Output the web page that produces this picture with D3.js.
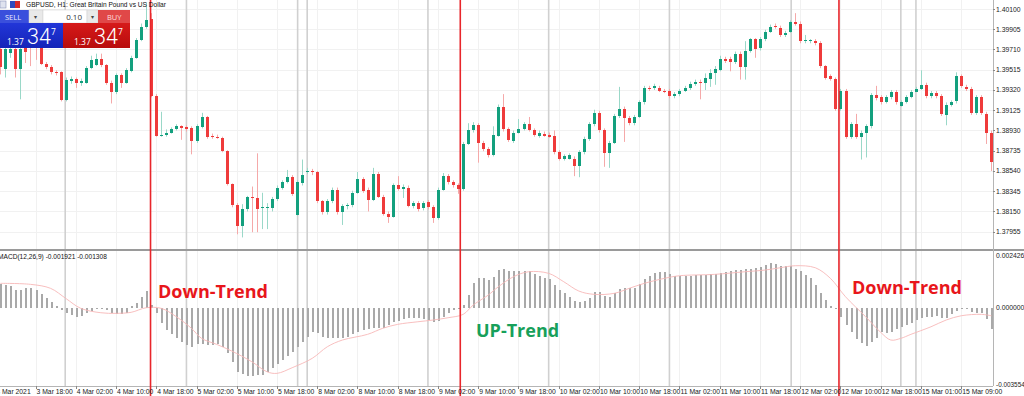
<!DOCTYPE html>
<html>
<head>
<meta charset="utf-8">
<script src="https://cdn.jsdelivr.net/npm/d3@7"></script>
<style>
	body { margin: 0; background: #fff; }
	svg { display: block; font-family: "Liberation Sans", Arial, sans-serif; }
</style>
</head>
<body>
<div id="chart"></div>
<script>
/* GBPUSD H1 candles with a MACD pane, MetaTrader look */

// OHLC, one entry per hourly bar (bar 0 = 3 Mar 2021 11:00)
const opens = [1.3971,1.3952,1.3968,1.3971,1.3952,1.3977,1.3981,1.3982,1.3977,1.3957,1.3954,1.3949,1.3949,1.3922,1.3941,1.3943,1.3939,1.3939,1.3953,1.3956,
1.3962,1.3956,1.3939,1.3930,1.3946,1.3939,1.3950,1.3963,1.3980,1.3993,1.4000,1.3926,1.3888,1.3889,1.3891,1.3894,1.3897,1.3896,1.3895,1.3883,
1.3896,1.3906,1.3888,1.3887,1.3886,1.3873,1.3841,1.3821,1.3801,1.3817,1.3829,1.3828,1.3818,1.3818,1.3818,1.3827,1.3838,1.3843,1.3848,1.3812,
1.3842,1.3853,1.3854,1.3853,1.3825,1.3814,1.3825,1.3836,1.3814,1.3820,1.3821,1.3833,1.3846,1.3836,1.3826,1.3851,1.3829,1.3813,1.3810,1.3840,
1.3837,1.3838,1.3820,1.3823,1.3818,1.3824,1.3819,1.3809,1.3836,1.3849,1.3843,1.3840,1.3837,1.3880,1.3893,1.3898,1.3881,1.3875,1.3869,1.3888,
1.3916,1.3894,1.3883,1.3891,1.3894,1.3899,1.3893,1.3888,1.3890,1.3889,1.3888,1.3872,1.3866,1.3866,1.3866,1.3859,1.3872,1.3885,1.3899,1.3910,
1.3893,1.3871,1.3881,1.3907,1.3914,1.3905,1.3900,1.3906,1.3920,1.3934,1.3934,1.3934,1.3931,1.3931,1.3926,1.3928,1.3931,1.3934,1.3938,1.3940,
1.3939,1.3943,1.3948,1.3951,1.3962,1.3962,1.3959,1.3967,1.3954,1.3970,1.3981,1.3972,1.3981,1.3988,1.3994,1.3992,1.3985,1.3988,1.3997,1.3996,
1.3979,1.3979,1.3979,1.3977,1.3955,1.3945,1.3943,1.3914,1.3931,1.3887,1.3899,1.3887,1.3891,1.3897,1.3927,1.3925,1.3920,1.3925,1.3930,1.3917,
1.3920,1.3925,1.3930,1.3933,1.3937,1.3926,1.3929,1.3926,1.3908,1.3918,1.3921,1.3945,1.3935,1.3933,1.3910,1.3925,1.3909,1.3891]

const highs = [1.3975,1.3974,1.3976,1.3974,1.3977,1.3981,1.3984,1.3986,1.3981,1.3959,1.3956,1.3951,1.3950,1.3944,1.3945,1.3944,1.3943,1.3955,1.3965,1.3967,
1.3967,1.3957,1.3941,1.3948,1.3948,1.3953,1.3965,1.3982,1.3996,1.4016,1.4006,1.3928,1.3911,1.3894,1.3896,1.3899,1.3898,1.3898,1.3897,1.3899,
1.3910,1.3907,1.3890,1.3889,1.3887,1.3874,1.3842,1.3823,1.3822,1.3830,1.3839,1.3871,1.3833,1.3823,1.3829,1.3840,1.3845,1.3855,1.3850,1.3845,
1.3865,1.3857,1.3856,1.3854,1.3826,1.3827,1.3838,1.3838,1.3822,1.3823,1.3835,1.3853,1.3848,1.3838,1.3857,1.3853,1.3831,1.3815,1.3842,1.3849,
1.3841,1.3840,1.3825,1.3825,1.3825,1.3826,1.3821,1.3838,1.3852,1.3851,1.3845,1.3842,1.3882,1.3900,1.3901,1.3900,1.3883,1.3877,1.3897,1.3918,
1.3928,1.3896,1.3893,1.3904,1.3901,1.3906,1.3895,1.3893,1.3892,1.3891,1.3893,1.3874,1.3870,1.3871,1.3868,1.3874,1.3887,1.3901,1.3913,1.3912,
1.3895,1.3883,1.3909,1.3935,1.3916,1.3907,1.3908,1.3922,1.3936,1.3936,1.3938,1.3936,1.3933,1.3933,1.3930,1.3933,1.3936,1.3940,1.3942,1.3942,
1.3948,1.3952,1.3955,1.3965,1.3964,1.3964,1.3969,1.3969,1.3979,1.3982,1.3982,1.3983,1.3990,1.3995,1.3996,1.3994,1.3989,1.3999,1.4006,1.3998,
1.3985,1.3981,1.3981,1.3979,1.3956,1.3947,1.3944,1.3933,1.3933,1.3901,1.3909,1.3893,1.3899,1.3929,1.3936,1.3927,1.3927,1.3932,1.3932,1.3922,
1.3927,1.3932,1.3935,1.3951,1.3939,1.3931,1.3931,1.3928,1.3920,1.3922,1.3949,1.3947,1.3937,1.3935,1.3927,1.3927,1.3911,1.3893]

const lows = [1.3947,1.3944,1.3963,1.3944,1.3923,1.3958,1.3955,1.3961,1.3956,1.3952,1.3947,1.3946,1.3921,1.3921,1.3938,1.3934,1.3936,1.3938,1.3952,1.3955,
1.3954,1.3937,1.3919,1.3928,1.3934,1.3938,1.3949,1.3962,1.3979,1.3991,1.3925,1.3887,1.3887,1.3887,1.3890,1.3893,1.3884,1.3892,1.3870,1.3881,
1.3895,1.3885,1.3885,1.3885,1.3872,1.3840,1.3819,1.3793,1.3790,1.3815,1.3795,1.3795,1.3798,1.3798,1.3815,1.3825,1.3836,1.3842,1.3830,1.3811,
1.3840,1.3851,1.3850,1.3823,1.3812,1.3812,1.3823,1.3812,1.3802,1.3817,1.3819,1.3832,1.3833,1.3815,1.3825,1.3828,1.3811,1.3804,1.3809,1.3835,
1.3828,1.3819,1.3818,1.3815,1.3816,1.3817,1.3804,1.3807,1.3835,1.3841,1.3838,1.3832,1.3835,1.3879,1.3891,1.3862,1.3873,1.3867,1.3868,1.3887,
1.3892,1.3882,1.3881,1.3890,1.3893,1.3892,1.3887,1.3886,1.3887,1.3886,1.3870,1.3864,1.3864,1.3865,1.3849,1.3848,1.3870,1.3883,1.3897,1.3891,
1.3858,1.3857,1.3880,1.3905,1.3882,1.3898,1.3898,1.3905,1.3918,1.3931,1.3932,1.3930,1.3929,1.3924,1.3924,1.3926,1.3930,1.3932,1.3936,1.3923,
1.3932,1.3935,1.3937,1.3950,1.3958,1.3950,1.3957,1.3942,1.3942,1.3968,1.3963,1.3970,1.3979,1.3987,1.3991,1.3983,1.3983,1.3987,1.3994,1.3977,
1.3977,1.3977,1.3975,1.3953,1.3942,1.3941,1.3912,1.3912,1.3885,1.3885,1.3885,1.3865,1.3867,1.3895,1.3922,1.3918,1.3919,1.3923,1.3918,1.3916,
1.3919,1.3924,1.3930,1.3932,1.3924,1.3924,1.3924,1.3907,1.3898,1.3916,1.3919,1.3934,1.3931,1.3908,1.3908,1.3908,1.3880,1.3854]

const closes = [1.3954,1.3971,1.3971,1.3952,1.3971,1.3969,1.3974,1.3975,1.3957,1.3954,1.3949,1.3948,1.3922,1.3942,1.3943,1.3939,1.3941,1.3953,1.3961,1.3962,
1.3956,1.3939,1.3930,1.3946,1.3939,1.3951,1.3963,1.3980,1.3993,1.3999,1.3926,1.3888,1.3889,1.3891,1.3894,1.3897,1.3895,1.3894,1.3883,1.3897,
1.3906,1.3887,1.3887,1.3886,1.3873,1.3841,1.3821,1.3801,1.3817,1.3829,1.3828,1.3817,1.3819,1.3819,1.3827,1.3838,1.3843,1.3848,1.3832,1.3843,
1.3850,1.3854,1.3853,1.3825,1.3814,1.3825,1.3836,1.3814,1.3820,1.3821,1.3833,1.3846,1.3835,1.3826,1.3851,1.3829,1.3813,1.3810,1.3840,1.3837,
1.3839,1.3820,1.3823,1.3817,1.3823,1.3819,1.3809,1.3836,1.3849,1.3843,1.3840,1.3837,1.3880,1.3893,1.3898,1.3881,1.3875,1.3869,1.3889,1.3916,
1.3894,1.3884,1.3891,1.3894,1.3899,1.3893,1.3889,1.3891,1.3888,1.3887,1.3872,1.3866,1.3868,1.3869,1.3859,1.3872,1.3885,1.3899,1.3910,1.3893,
1.3871,1.3881,1.3907,1.3914,1.3905,1.3900,1.3906,1.3920,1.3934,1.3933,1.3936,1.3931,1.3930,1.3926,1.3928,1.3931,1.3934,1.3938,1.3940,1.3939,
1.3944,1.3948,1.3952,1.3962,1.3960,1.3959,1.3967,1.3954,1.3970,1.3981,1.3971,1.3981,1.3988,1.3993,1.3993,1.3985,1.3987,1.3997,1.3996,1.3979,
1.3980,1.3980,1.3977,1.3955,1.3944,1.3943,1.3914,1.3931,1.3887,1.3899,1.3887,1.3891,1.3897,1.3927,1.3924,1.3920,1.3925,1.3930,1.3920,1.3920,
1.3925,1.3930,1.3933,1.3937,1.3926,1.3929,1.3926,1.3909,1.3918,1.3920,1.3945,1.3936,1.3933,1.3910,1.3925,1.3910,1.3891,1.3863]

// MACD(12,26,9) histogram, one value per bar
const macdHist = [0.00109,0.00106,0.00103,0.00083,0.00083,0.00090,0.00090,0.00083,0.00062,0.00044,0.00025,0.00009,-0.00011,-0.00026,-0.00034,-0.00042,-0.00037,-0.00026,-0.00015,-0.00007,
-0.00006,-0.00011,-0.00026,-0.00031,-0.00031,-0.00026,0.00009,0.00021,0.00051,0.00078,0.00013,-0.00026,-0.00073,-0.00104,-0.00124,-0.00143,-0.00158,-0.00174,-0.00182,-0.00171,
-0.00171,-0.00174,-0.00174,-0.00171,-0.00182,-0.00213,-0.00252,-0.00298,-0.00310,-0.00317,-0.00317,-0.00314,-0.00314,-0.00298,-0.00282,-0.00262,-0.00244,-0.00224,-0.00208,-0.00182,
-0.00161,-0.00135,-0.00115,-0.00119,-0.00135,-0.00140,-0.00140,-0.00143,-0.00140,-0.00135,-0.00124,-0.00115,-0.00104,-0.00099,-0.00096,-0.00096,-0.00093,-0.00081,-0.00068,-0.00062,
-0.00053,-0.00049,-0.00049,-0.00049,-0.00053,-0.00057,-0.00068,-0.00062,-0.00042,-0.00026,-0.00011,-0.00003,0.00013,0.00059,0.00114,0.00137,0.00137,0.00129,0.00144,0.00176,
0.00180,0.00171,0.00171,0.00171,0.00171,0.00171,0.00156,0.00149,0.00140,0.00132,0.00106,0.00083,0.00067,0.00048,0.00031,0.00025,0.00031,0.00047,0.00072,0.00072,
0.00056,0.00051,0.00067,0.00087,0.00093,0.00093,0.00093,0.00109,0.00134,0.00148,0.00160,0.00165,0.00165,0.00156,0.00149,0.00149,0.00149,0.00149,0.00152,0.00152,
0.00152,0.00156,0.00156,0.00160,0.00168,0.00171,0.00176,0.00176,0.00180,0.00180,0.00186,0.00191,0.00199,0.00207,0.00202,0.00196,0.00196,0.00196,0.00180,0.00171,
0.00152,0.00137,0.00106,0.00067,0.00036,0.00009,-0.00003,-0.00042,-0.00081,-0.00115,-0.00146,-0.00166,-0.00177,-0.00158,-0.00140,-0.00115,-0.00120,-0.00112,-0.00099,-0.00089,
-0.00081,-0.00073,-0.00057,-0.00047,-0.00042,-0.00042,-0.00039,-0.00047,-0.00047,-0.00031,-0.00015,-0.00006,-0.00006,-0.00019,-0.00026,-0.00026,-0.00053,-0.00099]

// signal line, read at these bars
const signalBars = [0,6,10,13,16,20,23,26,29,32,35,38,40,43,46,50,53,55,58,62,65,68,73,76,79,83,86,89,92,94,96,97,99,102,105,109,112,115,118,122,125,128,132,135,142,148,152,155,158,162,165,168,172,175,177,179,181,185,188,191,195,197]
const signalValues = [0.001137,0.001091,0.000904,0.000438,-0.000028,-0.000233,-0.000261,-0.000214,0.0,-0.000028,-0.000419,-0.00096,-0.001426,-0.001706,-0.002018,-0.002517,-0.002983,-0.003058,-0.002796,-0.002358,
-0.001818,-0.001505,-0.00124,-0.00096,-0.000774,-0.000653,-0.000573,-0.000466,-0.000308,0.000126,0.000438,0.000592,0.000979,0.001445,0.001678,0.001603,0.001212,0.000778,0.000625,0.000671,
0.000904,0.001137,0.00137,0.001492,0.001557,0.001678,0.001757,0.001864,0.001958,0.001864,0.00137,0.000513,-0.000419,-0.001147,-0.001505,-0.001426,-0.00124,-0.000886,-0.000573,-0.000373,
-0.000308,-0.000373]

const priceTicks = [1.40100,1.39905,1.39710,1.39515,1.39320,1.39125,1.38930,1.38735,1.38540,1.38345,1.38150,1.37955]
const macdTicks = [0.002426, 0.0, -0.003554]

const timeLabels = ["3 Mar 2021","3 Mar 18:00","4 Mar 02:00","4 Mar 10:00","4 Mar 18:00","5 Mar 02:00","5 Mar 10:00","5 Mar 18:00","8 Mar 02:00","8 Mar 10:00","8 Mar 18:00","9 Mar 02:00","9 Mar 10:00",
"9 Mar 18:00","10 Mar 02:00","10 Mar 10:00","10 Mar 18:00","11 Mar 02:00","11 Mar 10:00","11 Mar 18:00","12 Mar 02:00","12 Mar 10:00","12 Mar 18:00","15 Mar 01:00","15 Mar 09:00"]
const timeLabelBars = [-1,7,15,23,31,39,47,55,63,71,79,87,95,103,111,119,127,135,143,151,159,167,175,183,191]

// grey period separators and the red trend-change markers, in bar units
const separatorBars = [12.9,37,59.1,61,85,109,133,157.2,179,182]
const trendBars = [29.86,91.43,166.7]

const W = 1024, H = 396
const axisX = 993
const pane = { priceTop: 0, priceBottom: 249, macdTop: 251, macdBottom: 386 }

const bull = "#13a07e", bear = "#ef3b3b"
const bullWick = "#9ad8c8", bearWick = "#f5a9a9"

const x = d3.scaleLinear().domain([0, opens.length - 1]).range([0.3, 991.4])
const y = d3.scaleLinear().domain([priceTicks[priceTicks.length - 1], priceTicks[0]]).range([231.7, 9])
const ym = d3.scaleLinear().domain([macdTicks[2], macdTicks[0]]).range([384, 255.7])

const px = i => Math.round(x(i))

const svg = d3.select("#chart").append("svg")
	.attr("width", W).attr("height", H)
	.attr("viewBox", [0, 0, W, H])

svg.append("rect").attr("width", W).attr("height", H).attr("fill", "#fff")

// grid
const grid = svg.append("g").attr("stroke", "#f1f1f1").attr("stroke-width", 1)
grid.selectAll(".hg").data(priceTicks).join("line")
	.attr("x1", 0).attr("x2", axisX)
	.attr("y1", d => Math.round(y(d)) + 0.5).attr("y2", d => Math.round(y(d)) + 0.5)
grid.selectAll(".vg").data(timeLabelBars.slice(1)).join("line")
	.attr("x1", d => px(d) + 0.5).attr("x2", d => px(d) + 0.5)
	.attr("y1", 0).attr("y2", pane.macdBottom)

// period separators
svg.append("g").selectAll("line").data(separatorBars).join("line")
	.attr("x1", d => x(d)).attr("x2", d => x(d))
	.attr("y1", 0).attr("y2", pane.macdBottom)
	.attr("stroke", "#d0d0d0").attr("stroke-width", 1.6)

// candles
const idx = d3.range(opens.length)
const candles = svg.append("g")
candles.selectAll(".wick").data(idx).join("line")
	.attr("x1", i => px(i) + 0.5).attr("x2", i => px(i) + 0.5)
	.attr("y1", i => y(highs[i])).attr("y2", i => y(lows[i]))
	.attr("stroke", i => closes[i] >= opens[i] ? bullWick : bearWick)
	.attr("stroke-width", 1)
candles.selectAll(".body").data(idx).join("rect")
	.attr("shape-rendering", "crispEdges")
	.attr("x", i => px(i) - 1)
	.attr("width", 3)
	.attr("y", i => y(Math.max(opens[i], closes[i])))
	.attr("height", i => Math.max(1, Math.abs(y(opens[i]) - y(closes[i]))))
	.attr("fill", i => closes[i] >= opens[i] ? bull : bear)

// MACD histogram
svg.append("g").selectAll("rect").data(idx).join("rect")
	.attr("shape-rendering", "crispEdges")
	.attr("x", i => px(i) - 0.5)
	.attr("width", 2)
	.attr("y", i => Math.min(ym(0), ym(macdHist[i])))
	.attr("height", i => Math.max(1, Math.abs(ym(macdHist[i]) - ym(0))))
	.attr("fill", "#a9a9a9")

// signal line
const sig = d3.line()
	.x(d => x(d[0]))
	.y(d => ym(d[1]))
	.curve(d3.curveCatmullRom)
svg.append("path")
	.datum(signalBars.map((b, k) => [b, signalValues[k]]))
	.attr("d", sig)
	.attr("fill", "none")
	.attr("stroke", "#f7b8b8")
	.attr("stroke-width", 0.9)

// pane borders
svg.append("line").attr("x1", 0).attr("x2", W).attr("y1", 250).attr("y2", 250)
	.attr("stroke", "#9a9a9a").attr("stroke-width", 2)
svg.append("line").attr("x1", 0).attr("x2", axisX).attr("y1", pane.macdBottom + 0.5).attr("y2", pane.macdBottom + 0.5)
	.attr("stroke", "#b5b5b5").attr("stroke-width", 1)
svg.append("line").attr("x1", axisX + 0.5).attr("x2", axisX + 0.5).attr("y1", 0).attr("y2", pane.macdBottom)
	.attr("stroke", "#b5b5b5").attr("stroke-width", 1)

// trend markers
svg.append("g").selectAll("line").data(trendBars).join("line")
	.attr("x1", d => x(d)).attr("x2", d => x(d))
	.attr("y1", 0).attr("y2", H)
	.attr("stroke", "#e8262b").attr("stroke-width", 1.6)

// price axis
const pa = svg.append("g").attr("font-size", 6.8).attr("fill", "#222")
pa.selectAll("text").data(priceTicks).join("text")
	.attr("x", axisX + 3).attr("y", d => y(d) + 2.5)
	.text(d => d.toFixed(5))
pa.selectAll("line").data(priceTicks).join("line")
	.attr("x1", axisX).attr("x2", axisX + 2)
	.attr("y1", d => Math.round(y(d)) + 0.5).attr("y2", d => Math.round(y(d)) + 0.5)
	.attr("stroke", "#888")

const ma = svg.append("g").attr("font-size", 6.8).attr("fill", "#222")
ma.selectAll("text").data(macdTicks).join("text")
	.attr("x", axisX + 3)
	.attr("y", d => ym(d) + 2.5)
	.attr("font-size", d => d < 0 ? 6.4 : 6.8)
	.text(d => d.toFixed(6))

// time axis
const ta = svg.append("g").attr("font-size", 6.8).attr("fill", "#222")
ta.selectAll("text").data(timeLabels).join("text")
	.attr("x", (d, k) => x(timeLabelBars[k]) + 1)
	.attr("y", 394)
	.text(d => d)
ta.selectAll("line").data(timeLabelBars.slice(1)).join("line")
	.attr("x1", d => px(d) + 0.5).attr("x2", d => px(d) + 0.5)
	.attr("y1", pane.macdBottom).attr("y2", pane.macdBottom + 3)
	.attr("stroke", "#888")

// titles
svg.append("rect").attr("x", 0).attr("y", 1).attr("width", 6).attr("height", 7).attr("fill", "#dfe3ef").attr("stroke", "#8a93b8").attr("stroke-width", 0.6)
svg.append("rect").attr("x", 10).attr("y", 1).attr("width", 5).attr("height", 7).attr("fill", "#2f4bbf")
svg.append("rect").attr("x", 15).attr("y", 1).attr("width", 5).attr("height", 7).attr("fill", "#d62b2b")
svg.append("text").attr("x", 26).attr("y", 7).attr("font-size", 6.6).attr("fill", "#111")
	.text("GBPUSD, H1:  Great Britain Pound vs US Dollar")
svg.append("text").attr("x", -2).attr("y", 259).attr("font-size", 6.6).attr("fill", "#111")
	.text("MACD(12,26,9) -0.001921 -0.001308")

// one-click trading panel
const panel = svg.append("g").attr("font-family", "'Open Sans', 'Noto Sans', sans-serif")
panel.append("rect").attr("x", 0).attr("y", 10).attr("width", 29).attr("height", 13).attr("fill", "#3a4fdc")
panel.append("text").attr("x", 5).attr("y", 19.5).attr("font-size", 7.5).attr("fill", "#e8ecff").text("SELL")
panel.append("rect").attr("x", 29).attr("y", 10).attr("width", 14).attr("height", 13).attr("fill", "#e9e9e9").attr("stroke", "#d0d0d0").attr("stroke-width", 0.5)
panel.append("text").attr("x", 34).attr("y", 18.5).attr("font-size", 6).attr("fill", "#444").text("\u25BE")
panel.append("rect").attr("x", 43).attr("y", 10).attr("width", 44).attr("height", 13).attr("fill", "#fff").attr("stroke", "#d0d0d0").attr("stroke-width", 0.5)
panel.append("text").attr("x", 82).attr("y", 19.5).attr("font-size", 8).attr("fill", "#333").attr("text-anchor", "end").text("0.10")
panel.append("rect").attr("x", 87).attr("y", 10).attr("width", 11).attr("height", 13).attr("fill", "#e9e9e9").attr("stroke", "#d0d0d0").attr("stroke-width", 0.5)
panel.append("text").attr("x", 90.5).attr("y", 18.5).attr("font-size", 6).attr("fill", "#444").text("\u25BE")
panel.append("rect").attr("x", 98).attr("y", 10).attr("width", 32).attr("height", 13).attr("fill", "#e04848")
panel.append("text").attr("x", 107).attr("y", 19.5).attr("font-size", 7.5).attr("fill", "#ffdede").text("BUY")

const defs = svg.append("defs")
defs.append("linearGradient").attr("id", "gb").attr("x1", 0).attr("x2", 0).attr("y1", 0).attr("y2", 1)
	.call(g => { g.append("stop").attr("offset", 0).attr("stop-color", "#2236d8"); g.append("stop").attr("offset", 1).attr("stop-color", "#1424b8") })
defs.append("linearGradient").attr("id", "gr").attr("x1", 0).attr("x2", 0).attr("y1", 0).attr("y2", 1)
	.call(g => { g.append("stop").attr("offset", 0).attr("stop-color", "#d61a1a"); g.append("stop").attr("offset", 1).attr("stop-color", "#b80c0c") })

panel.append("rect").attr("x", 0).attr("y", 23).attr("width", 63).attr("height", 25).attr("fill", "url(#gb)")
panel.append("rect").attr("x", 63).attr("y", 23).attr("width", 67).attr("height", 25).attr("fill", "url(#gr)")
const quote = (x0, g) => {
	g.append("text").attr("x", x0).attr("y", 45).attr("font-size", 8.5).attr("fill", "#fff").text("1.37")
	g.append("text").attr("x", x0 + 20).attr("y", 44).attr("font-family", "Roboto, 'Open Sans', sans-serif")
		.attr("font-weight", 300).attr("font-size", 21.5).attr("fill", "#fff").text("34")
	g.append("text").attr("x", x0 + 44).attr("y", 35).attr("font-size", 8.5).attr("fill", "#fff").text("7")
}
quote(7, panel)
quote(74, panel)

// annotations
const notes = svg.append("g").attr("font-family", "'Open Sans', 'Noto Sans', sans-serif").attr("font-weight", "bold").attr("font-size", 18)
notes.append("text").attr("x", 158).attr("y", 298).attr("fill", "#e8161b").text("Down-Trend")
notes.append("text").attr("x", 852).attr("y", 294).attr("fill", "#e8161b").text("Down-Trend")
notes.append("text").attr("x", 476).attr("y", 337).attr("fill", "#17a05a").text("UP-Trend")
</script>
</body>
</html>
